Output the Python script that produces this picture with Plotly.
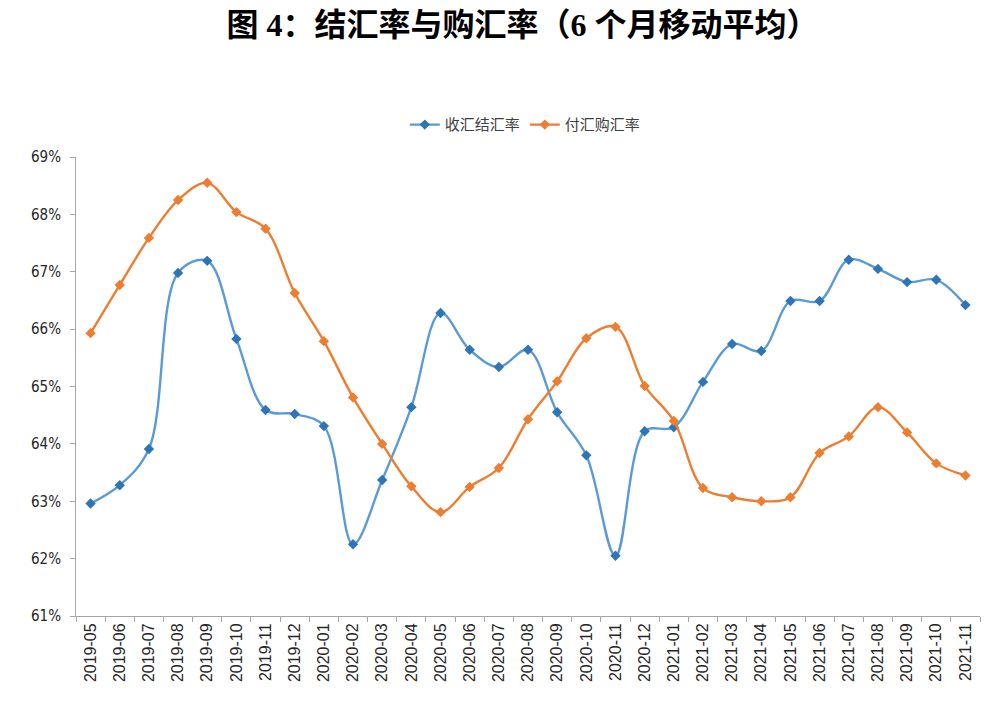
import plotly.graph_objects as go

months = ["2019-05","2019-06","2019-07","2019-08","2019-09","2019-10","2019-11","2019-12",
          "2020-01","2020-02","2020-03","2020-04","2020-05","2020-06","2020-07","2020-08",
          "2020-09","2020-10","2020-11","2020-12","2021-01","2021-02","2021-03","2021-04",
          "2021-05","2021-06","2021-07","2021-08","2021-09","2021-10","2021-11"]

jiehui = [62.96, 63.28, 63.91, 66.98, 67.19, 65.83, 64.59, 64.52,
          64.31, 62.25, 63.37, 64.64, 66.28, 65.64, 65.34, 65.64,
          64.55, 63.80, 62.05, 64.22, 64.29, 65.08, 65.74, 65.62,
          66.49, 66.49, 67.21, 67.05, 66.82, 66.86, 66.42]

gouhui = [65.93, 66.77, 67.59, 68.25, 68.55, 68.04, 67.75, 66.63,
          65.79, 64.81, 64.00, 63.26, 62.81, 63.25, 63.58, 64.43,
          65.09, 65.84, 66.04, 65.01, 64.40, 63.23, 63.07, 63.00,
          63.07, 63.84, 64.13, 64.64, 64.20, 63.66, 63.45]

fig = go.Figure()
fig.add_trace(go.Scatter(
    x=months, y=jiehui, name="收汇结汇率", mode="lines+markers",
    line=dict(color="#5B9BD5", width=2.4, shape="spline", smoothing=1.0),
    marker=dict(symbol="diamond", size=8, color="#2E75B6"),
))
fig.add_trace(go.Scatter(
    x=months, y=gouhui, name="付汇购汇率", mode="lines+markers",
    line=dict(color="#ED7D31", width=2.4, shape="spline", smoothing=1.0),
    marker=dict(symbol="diamond", size=8, color="#ED7D31"),
))

fig.update_layout(
    width=1004, height=703,
    paper_bgcolor="white", plot_bgcolor="white",
    margin=dict(l=76, r=24, t=157, b=87),
    title=dict(
        text="图 4：结汇率与购汇率（6 个月移动平均）",
        x=0.5205, xanchor="center", y=1 - 25 / 703, yanchor="middle",
        font=dict(family="Liberation Serif, Noto Sans CJK SC", size=32, color="black", weight=600),
    ),
    legend=dict(
        orientation="h", x=0.497, xanchor="center", y=1.07, yanchor="middle",
        font=dict(family="Noto Sans CJK SC", size=15, color="#404040"),
        itemwidth=30, tracegroupgap=0,
    ),
    showlegend=True,
)

fig.update_yaxes(
    range=[61, 69], dtick=1, ticksuffix="%", showgrid=False, zeroline=False,
    showline=True, linecolor="#a6a6a6", linewidth=1,
    ticks="outside", ticklen=5, tickcolor="#a6a6a6", ticklabelstandoff=6,
    tickfont=dict(family="DejaVu Sans Condensed, Liberation Sans Narrow, Liberation Sans", size=15, color="#262626"),
)
fig.update_xaxes(
    type="category", range=[-0.5, len(months) - 0.5], showgrid=False, zeroline=False,
    showline=True, linecolor="#a6a6a6", linewidth=1,
    ticks="outside", ticklen=5, tickcolor="#a6a6a6", tickson="boundaries",
    tickangle=-90,
    tickfont=dict(family="Liberation Sans, Arial", size=16, color="#262626"),
)

fig.write_html("out.html", config={"displayModeBar": False},
               post_script="document.body.style.margin='0px';")
